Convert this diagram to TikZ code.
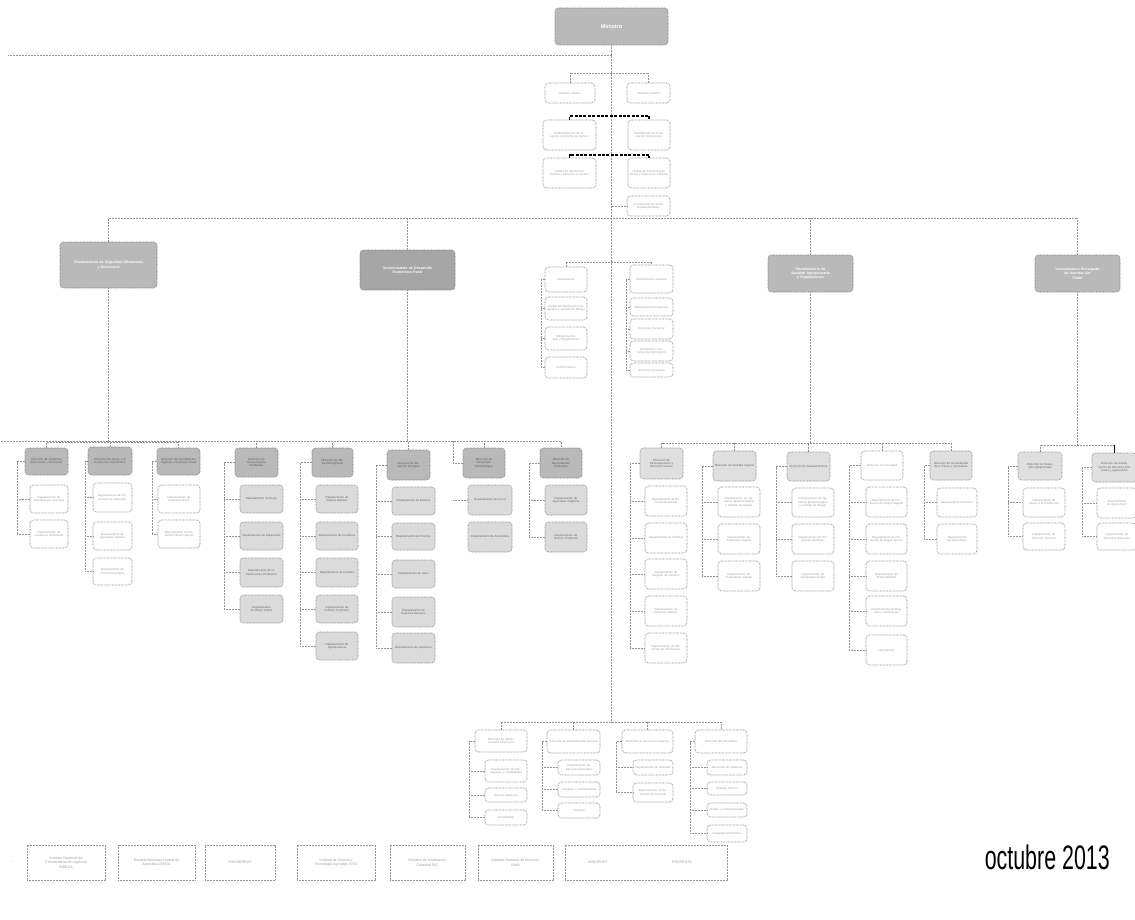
\documentclass[tikz,border=0pt]{standalone}
\usepackage{fontspec}
\setmainfont{Liberation Sans}
\newcommand\tinyf{\fontsize{2.9}{3.4}\selectfont}
\newcommand\vicef{\fontsize{3.6}{4.3}\selectfont\bfseries}
\newcommand\legf{\fontsize{3.6}{4.4}\selectfont}
\newcommand\bx[7]{%
  \pgfmathsetmacro\bxw{#5-#3}\pgfmathsetmacro\bxh{#6-#4}\pgfmathsetmacro\bxt{#5-#3-4}%
  \pgfmathsetmacro\bxx{(#3+#5)/2}\pgfmathsetmacro\bxy{(#4+#6)/2}%
  \node[#2, minimum width=\bxw pt, minimum height=\bxh pt, text width=\bxt pt] (#1) at (\bxx,\bxy) {#7};}
\newcommand\brk[3]{%
  \coordinate (bk) at (#1,0);
  \draw[conn] (#2.west) -- (#2.west -| bk) -- (#3.west -| bk);}
\newcommand\arm[2]{\draw[conn] (#2.west -| #1,0) -- (#2.west);}
\begin{document}
\begin{tikzpicture}[x=1pt,y=-1pt,
  bx/.style={draw=gray!90, line width=0.6pt, dash pattern=on 0.7pt off 0.7pt,
    rounded corners=3.5pt, inner sep=0pt, align=center, font=\tinyf, text=gray!75, fill=white},
  vice/.style={bx, fill=gray!55, draw=gray, text=white, font=\vicef},
  hdr/.style={bx, fill=gray!55, draw=gray, text=black!65},
  lhdr/.style={bx, fill=gray!25, text=black!60},
  gbox/.style={bx, fill=gray!28, text=black!60},
  leg/.style={draw=gray!85, line width=0.5pt, dash pattern=on 0.7pt off 0.8pt, inner sep=0pt,
    align=center, font=\legf, text=gray!75},
  conn/.style={draw=gray!85, line width=0.55pt, dash pattern=on 0.6pt off 0.9pt},
  tdash/.style={draw=black, line width=1.3pt, dash pattern=on 3pt off 1.4pt},
  tconn/.style={draw=black, line width=1.3pt}]
\useasboundingbox (0,0) rectangle (1135,920);
\fill[white] (0,0) rectangle (1135,920);

% ---------- top ----------
\bx{min}{vice, font=\fontsize{5.5}{6}\selectfont\bfseries}{555}{8}{668}{45}{Ministro}
\coordinate (e55) at (8,55);
\coordinate (mbot) at (611.5,722);
\draw[conn] (min.south) -- (mbot);
\draw[conn] (e55) -- (e55 -| min.south);

% ---------- staff ----------
\bx{s1}{bx}{545}{83}{595}{103}{Auditoría Interna}
\bx{s2}{bx}{627}{83}{670}{103}{Asesoría Jurídica}
\bx{s3}{bx}{543}{120}{596}{150}{Unidad Especial de Asesoría en Asuntos de Género}
\bx{s4}{bx}{628}{120}{670}{150}{Coordinación de Cooperación Internacional}
\bx{s5}{bx}{543}{158}{596}{188}{Unidad de Información Pública y Atención al Usuario}
\bx{s6}{bx}{628}{158}{670}{188}{Unidad de Comunicación Social y Relaciones Públicas}
\bx{s7}{bx}{627}{196}{670}{216}{Coordinación de Sedes Departamentales}
\coordinate (y73) at (0,73);
\coordinate (y116) at (0,116);
\coordinate (y155) at (0,155);
\draw[conn] (s1.north) -- (s1.north |- y73) -- (s2.north |- y73) -- (s2.north);
\draw[tdash] (s3.north) -- (s3.north |- y116) -- (s4.north |- y116) -- (s4.north);
\draw[tdash] (s5.north) -- (s5.north |- y155) -- (s6.north |- y155) -- (s6.north);
\draw[conn] (s7.west -| min.south) -- (s7.west);

% ---------- vice ministries ----------
\bx{v1}{vice}{60}{242}{157}{288}{Viceministerio de Seguridad Alimentaria\\y Nutricional}
\bx{v2}{vice, fill=gray!70}{360}{250}{455}{290}{Viceministerio de Desarrollo\\Económico Rural}
\bx{v3}{vice}{768}{255}{853}{292}{Viceministerio de\\Sanidad Agropecuaria\\y Regulaciones}
\bx{v4}{vice}{1035}{255}{1120}{292}{Viceministerio Encargado\\de Asuntos del\\Petén}
\coordinate (y218) at (0,218);
\draw[conn] (v1.north) -- (v1.north |- y218) -- (v4.north |- y218) -- (v4.north);
\draw[conn] (v2.north) -- (v2.north |- y218);
\draw[conn] (v3.north) -- (v3.north |- y218);

% ---------- middle cluster ----------
\bx{m1}{bx}{545}{267}{587}{292}{Planeamiento}
\bx{m2}{bx}{545}{297}{587}{320}{Unidad de Planificación Geográfica y Gestión de Riesgo}
\bx{m3}{bx}{545}{327}{587}{350}{Unidad de Normas y Regulaciones}
\bx{m4}{bx}{545}{357}{587}{378}{Control Interno}
\bx{n1}{bx}{630}{265}{673}{293}{Administración General}
\bx{n2}{bx}{630}{298}{673}{316}{Administración Financiera}
\bx{n3}{bx}{630}{319}{673}{339}{Recursos Humanos}
\bx{n4}{bx}{630}{341}{673}{361}{Informática y Sistemas de Información}
\bx{n5}{bx}{630}{363}{673}{377}{Servicios Generales}
\coordinate (y262) at (0,262);
\draw[conn] (m1.north) -- (m1.north |- y262) -- (n1.north |- y262) -- (n1.north);
\brk{541}{m1}{m4}
\foreach \c in {m2,m3,m4} {\arm{541}{\c}}
\brk{626}{n1}{n5}
\foreach \c in {n2,n3,n4,n5} {\arm{626}{\c}}

% ---------- group 1 ----------
\bx{a0}{hdr}{25}{448}{68}{475}{Dirección de Asistencia Alimentaria y Nutricional}
\bx{a1}{bx}{30}{485}{68}{513}{Departamento de Alimentos por Acciones}
\bx{a2}{bx}{30}{520}{68}{548}{Departamento de Asistencia Alimentaria}
\bx{b0}{hdr}{88}{447}{132}{475}{Dirección de Apoyo a la Producción Comunitaria}
\bx{b1}{bx}{93}{483}{132}{512}{Departamento de Producción de Alimentos}
\bx{b2}{bx}{93}{522}{132}{550}{Departamento de Agricultura Familiar}
\bx{b3}{bx}{93}{558}{132}{585}{Departamento de Huertos Escolares}
\bx{c0}{hdr}{157}{448}{200}{475}{Dirección de Coordinación Regional y Extensión Rural}
\bx{c1}{bx}{158}{485}{200}{513}{Departamento de Extensión Rural}
\bx{c2}{bx}{158}{520}{200}{548}{Departamento de Desarrollo Rural Integral}
\coordinate (g1) at (0,442);
\draw[conn] (v1.south) -- (v1.south |- g1);
\draw[conn] (a0.north) -- (a0.north |- g1) -- (c0.north |- g1) -- (c0.north);
\draw[conn] (b0.north) -- (b0.north |- g1);
\brk{17}{a0}{a2}  \foreach \c in {a1,a2} {\arm{17}{\c}}
\brk{85}{b0}{b3}  \foreach \c in {b1,b2,b3} {\arm{85}{\c}}
\brk{152}{c0}{c2} \foreach \c in {c1,c2} {\arm{152}{\c}}

% ---------- group 2 ----------
\bx{d0}{hdr}{235}{448}{278}{477}{Dirección de\\Infraestructura\\Productiva}
\bx{d1}{gbox}{240}{485}{283}{513}{Departamento de Riego}
\bx{d2}{gbox}{240}{522}{283}{550}{Departamento de Maquinaria}
\bx{d3}{gbox}{240}{558}{283}{587}{Departamento de Infraestructura Productiva}
\bx{d4}{gbox}{240}{595}{283}{623}{Departamento de Obras Civiles}
\bx{e0}{hdr}{312}{448}{353}{477}{Dirección de Desarrollo Agrícola}
\bx{e1}{gbox}{316}{485}{358}{513}{Departamento de Granos Básicos}
\bx{e2}{gbox}{316}{522}{358}{550}{Departamento de Hortalizas}
\bx{e3}{gbox}{316}{558}{358}{587}{Departamento de Frutales}
\bx{e4}{gbox}{316}{595}{358}{623}{Departamento de Cultivos Tropicales}
\bx{e5}{gbox}{316}{632}{358}{660}{Departamento de Agroforestería}
\bx{f0}{hdr}{387}{450}{430}{480}{Dirección de Desarrollo Pecuario}
\bx{f1}{gbox}{392}{487}{435}{515}{Departamento de Bovinos}
\bx{f2}{gbox}{392}{523}{435}{550}{Departamento de Porcinos}
\bx{f3}{gbox}{392}{560}{435}{588}{Departamento de Aves}
\bx{f4}{gbox}{392}{597}{435}{627}{Departamento de Especies Menores}
\bx{f5}{gbox}{392}{633}{435}{663}{Departamento de Apicultura}
\bx{g0}{hdr}{463}{448}{505}{478}{Dirección de\\Desarrollo\\Hidrobiológico}
\bx{g1}{gbox}{468}{485}{512}{515}{Departamento de Pesca}
\bx{g2}{gbox}{468}{522}{512}{552}{Departamento de Acuicultura}
\bx{h0}{hdr}{540}{448}{582}{478}{Dirección de\\Reconversión\\Productiva}
\bx{h1}{gbox}{545}{485}{587}{515}{Departamento de Agricultura Orgánica}
\bx{h2}{gbox}{545}{522}{587}{552}{Departamento de Nuevos Productos}
\coordinate (g2) at (0,441);
\draw[conn] (v2.south) -- (v2.south |- g2);
\draw[conn] (d0.north) -- (d0.north |- g2) -- (h0.north |- g2) -- (h0.north);
\foreach \c in {e0,f0,g0} {\draw[conn] (\c.north) -- (\c.north |- g2);}
\brk{224}{d0}{d4} \foreach \c in {d1,d2,d3,d4} {\arm{224}{\c}}
\brk{300}{e0}{e5} \foreach \c in {e1,e2,e3,e4,e5} {\arm{300}{\c}}
\brk{376}{f0}{f5} \foreach \c in {f1,f2,f3,f4,f5} {\arm{376}{\c}}
\brk{453}{g0}{g2} \foreach \c in {g1,g2} {\arm{453}{\c}}
\brk{529}{h0}{h2} \foreach \c in {h1,h2} {\arm{529}{\c}}

% ---------- group 3 ----------
\bx{i0}{lhdr}{640}{448}{683}{479}{Dirección de\\Fitozoogenética y\\Recursos Nativos}
\bx{i1}{bx}{645}{486}{687}{516}{Departamento de Recursos Genéticos}
\bx{i2}{bx}{645}{523}{687}{553}{Departamento de Semillas}
\bx{i3}{bx}{645}{559}{687}{589}{Departamento de Registro de Insumos}
\bx{i4}{bx}{645}{596}{687}{626}{Departamento de Recursos Nativos}
\bx{i5}{bx}{645}{633}{687}{663}{Departamento de Sistemas de Información}
\bx{j0}{lhdr}{713}{451}{756}{481}{Dirección de Sanidad Vegetal}
\bx{j1}{bx}{718}{487}{760}{517}{Departamento de Vigilancia Epidemiológica y Análisis de Riesgo}
\bx{j2}{bx}{718}{524}{760}{554}{Departamento de Protección Vegetal}
\bx{j3}{bx}{718}{561}{760}{591}{Departamento de Cuarentena Vegetal}
\bx{k0}{lhdr}{787}{452}{830}{481}{Dirección de Sanidad Animal}
\bx{k1}{bx}{792}{488}{834}{517}{Departamento de Vigilancia Epidemiológica y Análisis de Riesgo}
\bx{k2}{bx}{792}{524}{834}{554}{Departamento de Programas Sanitarios}
\bx{k3}{bx}{792}{561}{834}{591}{Departamento de Cuarentena Animal}
\bx{l0}{bx}{861}{451}{903}{480}{Dirección de Inocuidad}
\bx{l1}{bx}{866}{487}{907}{517}{Departamento de Productos de Origen Vegetal}
\bx{l2}{bx}{866}{524}{907}{554}{Departamento de Productos de Origen Animal}
\bx{l3}{bx}{866}{561}{907}{591}{Departamento de Rastreabilidad}
\bx{l4}{bx}{866}{596}{907}{626}{Departamento de Registro y Certificación}
\bx{l5}{bx}{866}{635}{907}{665}{Laboratorios}
\bx{o0}{lhdr}{930}{451}{972}{480}{Dirección de Normatividad de la Pesca y Acuicultura}
\bx{o1}{bx}{937}{488}{977}{517}{Departamento de Pesca}
\bx{o2}{bx}{937}{524}{977}{554}{Departamento de Acuicultura}
\coordinate (g3) at (0,443);
\draw[conn] (v3.south) -- (v3.south |- g3);
\draw[conn] (i0.north) -- (i0.north |- g3) -- (o0.north |- g3) -- (o0.north);
\foreach \c in {j0,k0,l0} {\draw[conn] (\c.north) -- (\c.north |- g3);}
\brk{630}{i0}{i5} \foreach \c in {i1,i2,i3,i4,i5} {\arm{630}{\c}}
\brk{702}{j0}{j3} \foreach \c in {j1,j2,j3} {\arm{702}{\c}}
\brk{776}{k0}{k3} \foreach \c in {k1,k2,k3} {\arm{776}{\c}}
\brk{849}{l0}{l5} \foreach \c in {l1,l2,l3,l4,l5} {\arm{849}{\c}}
\brk{924}{o0}{o2} \foreach \c in {o1,o2} {\arm{924}{\c}}

% ---------- group 4 ----------
\bx{p0}{lhdr}{1018}{452}{1062}{480}{Dirección de Desarrollo Agropecuario}
\bx{p1}{bx}{1023}{488}{1065}{517}{Departamento de Apoyo a la Producción}
\bx{p2}{bx}{1023}{523}{1065}{550}{Departamento de Servicios Técnicos}
\bx{q0}{lhdr}{1092}{453}{1137}{482}{Dirección de Coordinación de Recursos Naturales y Agroturismo}
\bx{q1}{bx}{1097}{488}{1137}{518}{Departamento de Agroturismo}
\bx{q2}{bx}{1097}{523}{1137}{550}{Departamento de Recursos Naturales}
\coordinate (g4) at (0,445);
\draw[conn] (v4.south) -- (v4.south |- g4);
\draw[conn] (p0.north) -- (p0.north |- g4) -- (q0.north |- g4);
\draw[tconn] (q0.north |- g4) -- (q0.north);
\brk{1008}{p0}{p2} \foreach \c in {p1,p2} {\arm{1008}{\c}}
\brk{1082}{q0}{q2} \foreach \c in {q1,q2} {\arm{1082}{\c}}

% ---------- bottom group ----------
\bx{r0}{bx}{475}{730}{527}{752}{Dirección de Administración Financiera}
\bx{r1}{bx}{485}{760}{527}{782}{Departamento de Presupuesto y Contabilidad}
\bx{r2}{bx}{485}{788}{527}{802}{Área de Tesorería}
\bx{r3}{bx}{485}{810}{527}{825}{Contabilidad}
\bx{t0}{bx}{547}{730}{600}{753}{Dirección de Administración General}
\bx{t1}{bx}{558}{760}{600}{775}{Departamento de Servicios Generales}
\bx{t2}{bx}{558}{782}{600}{797}{Compras y Contrataciones}
\bx{t3}{bx}{558}{803}{600}{818}{Almacén}
\bx{u0}{bx}{622}{730}{673}{753}{Dirección de Recursos Humanos}
\bx{u1}{bx}{633}{760}{673}{775}{Departamento de Nóminas}
\bx{u2}{bx}{633}{783}{673}{802}{Departamento de Desarrollo de Personal}
\bx{w0}{bx}{695}{730}{747}{753}{Dirección de Informática}
\bx{w1}{bx}{707}{760}{747}{775}{Desarrollo de Sistemas}
\bx{w2}{bx}{707}{782}{747}{795}{Soporte Técnico}
\bx{w3}{bx}{707}{803}{747}{817}{Redes y Comunicaciones}
\bx{w4}{bx}{707}{825}{747}{842}{Seguridad Informática}
\coordinate (g5) at (0,722);
\draw[conn] (r0.north) -- (r0.north |- g5) -- (w0.north |- g5) -- (w0.north);
\foreach \c in {t0,u0} {\draw[conn] (\c.north) -- (\c.north |- g5);}
\brk{469}{r0}{r3} \foreach \c in {r1,r2,r3} {\arm{469}{\c}}
\brk{542}{t0}{t3} \foreach \c in {t1,t2,t3} {\arm{542}{\c}}
\brk{616}{u0}{u2} \foreach \c in {u1,u2} {\arm{616}{\c}}
\brk{690}{w0}{w4} \foreach \c in {w1,w2,w3,w4} {\arm{690}{\c}}

% ---------- legend ----------
\node[leg, minimum width=78pt, minimum height=35pt] (L1) at (66,862.5) {Instituto Nacional de\\Comercialización Agrícola\\INDECA};
\node[leg, minimum width=77pt, minimum height=35pt] (L2) at (156.5,862.5) {Escuela Nacional Central de\\Agricultura ENCA};
\node[leg, minimum width=70pt, minimum height=35pt] (L3) at (240,862.5) {FONTIERRAS};
\node[leg, minimum width=78pt, minimum height=35pt] (L4) at (336,862.5) {Instituto de Ciencia y\\Tecnología Agrícolas ICTA};
\node[leg, minimum width=75pt, minimum height=35pt] (L5) at (427.5,862.5) {Registro de Información\\Catastral RIC};
\node[leg, minimum width=75pt, minimum height=35pt] (L6) at (515.5,862.5) {Instituto Nacional de Bosques\\INAB};
\node[leg, minimum width=162pt, minimum height=35pt] (L7) at (646,862.5) {};
\node[font=\legf, text=gray!75, inner sep=0pt] (L7a) at (598,862) {AGEXPORT};
\node[font=\legf, text=gray!75, inner sep=0pt] (L7b) at (682,862) {PROFRUTA};
\node[font=\legf, text=gray!60, inner sep=0pt] (dot) at (12,862) {--};

\node[inner sep=0pt, anchor=base east] (date) at (1110,869)
  {\scalebox{0.63}[1]{\fontsize{34}{34}\selectfont octubre 2013}};
\end{tikzpicture}
\end{document}
